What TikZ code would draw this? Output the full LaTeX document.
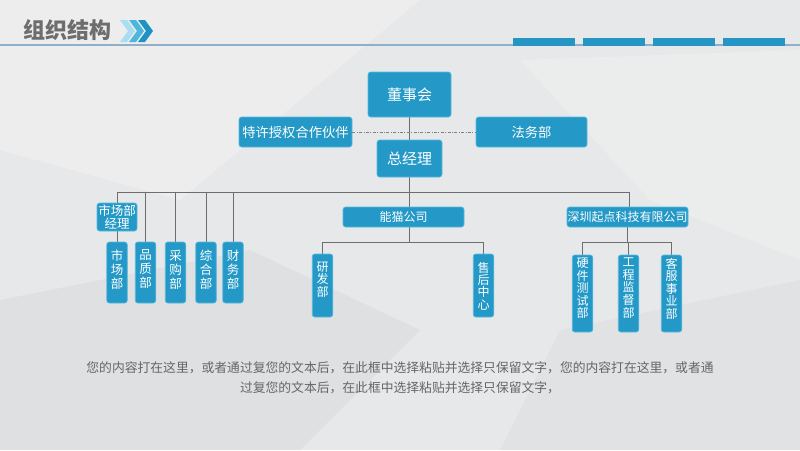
\documentclass[tikz,border=0pt]{standalone}
\usepackage{fontspec}
\newfontfamily\cjk{Noto Sans CJK SC}
\usetikzlibrary{backgrounds}
\definecolor{boxblue}{HTML}{2499C7}
\definecolor{boxedge}{HTML}{56B9E0}
\definecolor{linegray}{HTML}{6E6E6E}
\definecolor{bggray}{HTML}{E7E8E9}
\definecolor{titlegray}{HTML}{6D6D6D}
\definecolor{chevA}{HTML}{A9DDF0}
\definecolor{chevB}{HTML}{4DB6DF}
\definecolor{chevC}{HTML}{1E93C2}
\definecolor{hline}{HTML}{8FB0C8}
\definecolor{barblue}{HTML}{2596C4}
\definecolor{txtgray}{HTML}{666666}
% vertical text box content: height, top offset, font size, line pitch, text
\newcommand{\vtxt}[5]{\parbox[c][#1][t]{20.5pt}{\centering\fontsize{#3}{#4}\selectfont\vspace*{#2}#5\par}}
\tikzset{
  bx/.style={fill=boxblue, draw=boxedge, line width=0.6pt, rounded corners=2.5pt,
    text=white, inner sep=0pt, align=center, font=\cjk},
  vbx/.style={fill=boxblue, draw=boxedge, line width=0.6pt, rounded corners=2.5pt,
    text=white, inner sep=0pt, font=\cjk},
  conn/.style={draw=linegray, line width=0.9pt},
  dotconn/.style={draw=gray, line width=0.6pt, dash pattern=on 3pt off 1.5pt on 0.8pt off 1.5pt},
}
\begin{document}
\begin{tikzpicture}[x=1pt,y=-1pt]
\useasboundingbox (0,0) rectangle (800,450);
\begin{pgfonlayer}{background}
  \fill[bggray] (0,0) rectangle (800,450);
  \fill[white,opacity=0.25] (0,0) -- (420,0) -- (180,200) -- (0,150) -- cycle;
  \fill[white,opacity=0.18] (520,60) -- (800,50) -- (800,260) -- (650,200) -- cycle;
  \fill[black,opacity=0.03] (0,300) -- (250,250) -- (420,330) -- (300,450) -- (0,450) -- cycle;
  \fill[black,opacity=0.025] (560,330) -- (800,280) -- (800,450) -- (500,450) -- cycle;
\end{pgfonlayer}

% header
\node[anchor=west, text=titlegray, inner sep=0pt, font=\cjk\bfseries\fontsize{22}{22}\selectfont] (title) at (23,30) {组织结构};
\fill[chevA] (120,20) -- (127,20) -- (135,31) -- (127,42) -- (120,42) -- (128,31) -- cycle;
\fill[chevB] (129,20) -- (136,20) -- (144,31) -- (136,42) -- (129,42) -- (137,31) -- cycle;
\fill[chevC] (138,20) -- (145,20) -- (153,31) -- (145,42) -- (138,42) -- (146,31) -- cycle;
\draw[hline, line width=1.5pt] (0,45) -- (800,45);
\foreach \a in {513,583,653,723} \fill[barblue] (\a,38) rectangle (\a+62,46);

% top nodes
\node[bx, minimum width=83pt, minimum height=45pt, font=\cjk\fontsize{15}{15}\selectfont] (dsh) at (409.5,94.5) {董事会};
\node[bx, minimum width=113pt, minimum height=30pt, font=\cjk\fontsize{13.3}{13.3}\selectfont] (tx) at (295.5,132) {特许授权合作伙伴};
\node[bx, minimum width=111pt, minimum height=30pt, font=\cjk\fontsize{13.3}{13.3}\selectfont] (fw) at (531.5,132) {法务部};
\node[bx, minimum width=65pt, minimum height=37pt, font=\cjk\fontsize{15}{15}\selectfont] (zjl) at (409.5,158.5) {总经理};

% left group
\node[bx, minimum width=40pt, minimum height=28pt, font=\cjk\fontsize{12.5}{13}\selectfont] (scjl) at (117,217) {市场部\\经理};
\node[vbx] (scb) at (117,272.5) {\vtxt{61pt}{8pt}{12.5}{14}{市\\场\\部}};
\node[vbx] (pz) at (145.5,272.5) {\vtxt{61pt}{8pt}{12.5}{14}{品\\质\\部}};
\node[vbx] (cg) at (175.5,272.5) {\vtxt{61pt}{8pt}{12.5}{14}{采\\购\\部}};
\node[vbx] (zh) at (206,272.5) {\vtxt{61pt}{8pt}{12.5}{14}{综\\合\\部}};
\node[vbx] (cw) at (233,272.5) {\vtxt{61pt}{8pt}{12.5}{14}{财\\务\\部}};

% middle group
\node[bx, minimum width=121pt, minimum height=20pt, font=\cjk\fontsize{12}{12}\selectfont] (nm) at (403.5,217) {能猫公司};
\node[vbx] (yf) at (322.5,285.5) {\vtxt{63pt}{8pt}{12}{12.3}{研\\发\\部}};
\node[vbx] (sh) at (483.5,285.5) {\vtxt{63pt}{8pt}{12}{12.3}{售\\后\\中\\心}};

% right group
\node[bx, minimum width=121pt, minimum height=20pt, font=\cjk\fontsize{12}{12}\selectfont] (sz) at (627.5,217) {深圳起点科技有限公司};
\node[vbx] (yj) at (582.5,293.5) {\vtxt{77pt}{3pt}{12}{12.6}{硬\\件\\测\\试\\部}};
\node[vbx] (gc) at (628.5,293.5) {\vtxt{77pt}{3pt}{12}{12.6}{工\\程\\监\\督\\部}};
\node[vbx] (kf) at (671.5,293.5) {\vtxt{77pt}{3pt}{12}{12.6}{客\\服\\事\\业\\部}};

% bottom text
\node[text=txtgray, align=center, inner sep=0pt, font=\cjk\fontsize{12.8}{20}\selectfont] (txt) at (400,378) {您的内容打在这里，或者通过复您的文本后，在此框中选择粘贴并选择只保留文字，您的内容打在这里，或者通\\过复您的文本后，在此框中选择粘贴并选择只保留文字，};

% connectors
\coordinate (bus) at (409.5,192);
\coordinate (nmbus) at (409.5,242);
\coordinate (szbus) at (627.5,242);
\begin{pgfonlayer}{background}
  \draw[conn] (dsh.south) -- (zjl.north);
  \draw[dotconn] (tx.east) -- (fw.west);
  \draw[conn] (zjl.south) -- (bus);
  \draw[conn] (scb.north |- bus) -- (629,192);
  \draw[conn] (scb.north) -- (scb.north |- bus);
  \foreach \n in {pz,cg,zh,cw} \draw[conn] (\n.north) -- (\n.north |- bus);
  \draw[conn] (bus) -- (bus |- nm.north);
  \draw[conn] (bus |- nm.south) -- (nmbus);
  \draw[conn] (yf.north |- nmbus) -- (sh.north |- nmbus);
  \foreach \n in {yf,sh} \draw[conn] (\n.north) -- (\n.north |- nmbus);
  \draw[conn] (629,192) -- (629,207);
  \draw[conn] (sz.south) -- (szbus);
  \draw[conn] (yj.north |- szbus) -- (kf.north |- szbus);
  \foreach \n in {yj,gc,kf} \draw[conn] (\n.north) -- (\n.north |- szbus);
\end{pgfonlayer}
\end{tikzpicture}
\end{document}
